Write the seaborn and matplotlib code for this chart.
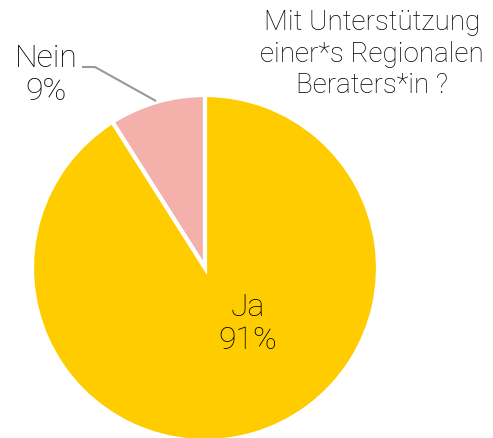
import matplotlib
matplotlib.use("Agg")
import matplotlib.pyplot as plt
import seaborn as sns

# data
labels = ["Nein", "Ja"]
shares = [9, 91]
colors = ["#F4B0AA", "#FFCC00"]
title = "Mit Unterstützung\neiner*s Regionalen\nBeraters*in ?"

sns.set_theme(style="white")
plt.rcParams["font.family"] = ["Roboto", "DejaVu Sans"]

W, H = 493, 438
fig = plt.figure(figsize=(W / 100, H / 100), dpi=100)
ax = fig.add_axes([0, 0, 1, 1])

cx, cy, r = 205, H - 268, 173
wedges, _ = ax.pie(shares, colors=colors, startangle=90, counterclock=True,
                   center=(cx, cy), radius=r,
                   wedgeprops=dict(edgecolor="white", linewidth=3))
ax.set_xlim(0, W)
ax.set_ylim(0, H)
ax.set_aspect("equal")
ax.axis("off")

# labels
ax.text(248, H - 324, f"{labels[1]}\n{shares[1]}%", ha="center", va="center",
        fontsize=23, fontweight="light", color="black", linespacing=1.2)
ax.text(46, H - 75, f"{labels[0]}\n{shares[0]}%", ha="center", va="center",
        fontsize=23, fontweight="light", color="black", linespacing=1.2)
ax.plot([82, 95, 156], [H - 67, H - 67, H - 101], color="#999999", lw=1.5,
        solid_capstyle="butt")

ax.text(372, H - 54, title, ha="center", va="center", fontsize=20,
        fontweight="light", color="black", linespacing=1.2)

fig.savefig("out.png", dpi=100)
